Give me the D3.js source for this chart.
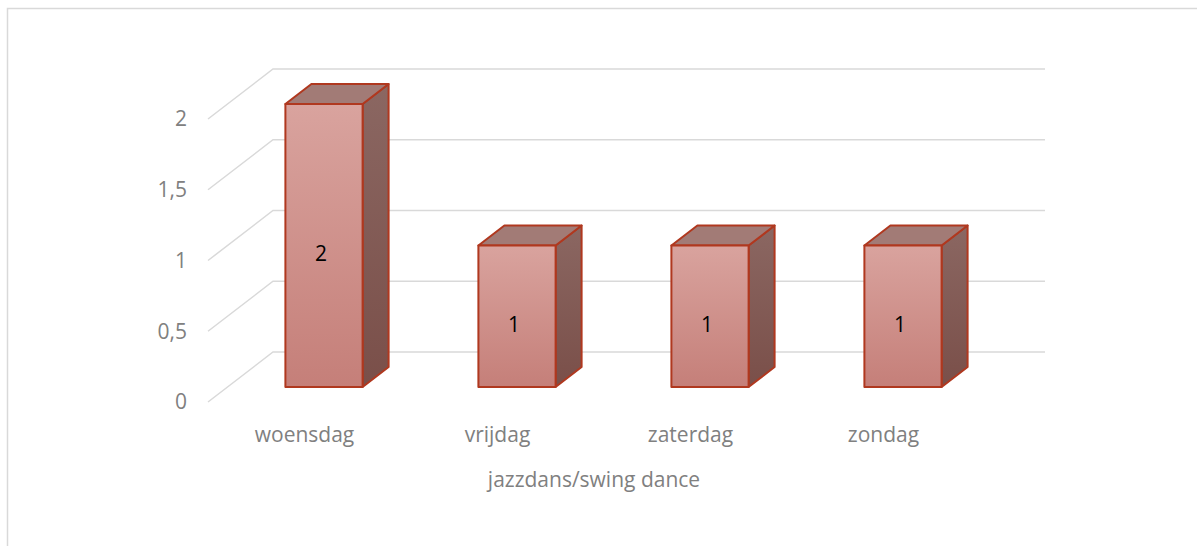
<!DOCTYPE html>
<html lang="nl">
<head>
<meta charset="utf-8">
<title>jazzdans/swing dance</title>
<style>
  body { margin: 0; background: #fff; }
  text { font-family: "Open Sans", "DejaVu Sans", sans-serif; }
</style>
</head>
<body>
<script src="https://cdn.jsdelivr.net/npm/d3@7"></script>
<script>
var categories = ["woensdag", "vrijdag", "zaterdag", "zondag"];
var values = [2, 1, 1, 1];
var yTicks = [0, 0.5, 1, 1.5, 2];
var axisTitle = "jazzdans/swing dance";

var width = 1197, height = 546;
var depthX = 65, depthY = -50;      // full depth of the 3D box
var barFront = 0.3, barBack = 0.7;  // bar position inside the depth

var svg = d3.select("body").append("svg")
    .attr("width", width)
    .attr("height", height);

// chart frame
svg.append("rect")
    .attr("x", 7.5).attr("y", 8.5)
    .attr("width", 1300).attr("height", 700)
    .attr("fill", "none")
    .attr("stroke", "#d9d9d9")
    .attr("stroke-width", 1.5);

var x = d3.scaleBand()
    .domain(categories)
    .range([208, 980])
    .paddingInner(0.6)
    .paddingOuter(0.3);

var y = d3.scaleLinear()
    .domain([0, 2])
    .range([402, 119]);

var fmt = d3.formatLocale({decimal: ",", thousands: ".", grouping: [3], currency: ["€", ""]}).format("~g");

function off(p, d) { return [p[0] + d * depthX, p[1] + d * depthY]; }

var defs = svg.append("defs");
var gFront = defs.append("linearGradient").attr("id", "front")
    .attr("x1", 0).attr("y1", 0).attr("x2", 0).attr("y2", 1);
gFront.append("stop").attr("offset", 0).attr("stop-color", "#d9a39e");
gFront.append("stop").attr("offset", 1).attr("stop-color", "#c57f79");
var gSide = defs.append("linearGradient").attr("id", "side")
    .attr("x1", 0).attr("y1", 0).attr("x2", 0).attr("y2", 1);
gSide.append("stop").attr("offset", 0).attr("stop-color", "#8b6762");
gSide.append("stop").attr("offset", 1).attr("stop-color", "#7a4f49");

// gridlines: diagonal on the side wall, then horizontal on the back wall
var xLeft = x.range()[0], xRight = x.range()[1];
svg.append("g")
    .selectAll("path")
    .data(yTicks)
    .enter()
    .append("path")
    .attr("fill", "none")
    .attr("stroke", "#d9d9d9")
    .attr("stroke-width", 1.5)
    .attr("d", function(d) {
        var a = [xLeft, y(d)];
        var b = off(a, 1);
        var c = off([xRight, y(d)], 1);
        return d3.line()([a, b, c]);
    });

// y tick labels
svg.append("g")
    .selectAll("text")
    .data(yTicks)
    .enter()
    .append("text")
    .attr("x", 187)
    .attr("y", function(d) { return y(d); })
    .attr("dy", "0.35em")
    .attr("text-anchor", "end")
    .attr("font-size", 21)
    .attr("fill", "#808080")
    .text(function(d) { return fmt(d); });

// bars
var bars = svg.append("g")
    .selectAll("g")
    .data(values)
    .enter()
    .append("g");

function corners(d, i) {
    var x0 = x(categories[i]), x1 = x0 + x.bandwidth();
    return {
        fbl: off([x0, y(0)], barFront), fbr: off([x1, y(0)], barFront),
        ftl: off([x0, y(d)], barFront), ftr: off([x1, y(d)], barFront),
        bbr: off([x1, y(0)], barBack),
        btl: off([x0, y(d)], barBack), btr: off([x1, y(d)], barBack)
    };
}

var stroke = "#b0381f";
bars.append("path")
    .attr("fill", "url(#side)")
    .attr("stroke", stroke).attr("stroke-width", 2).attr("stroke-linejoin", "round")
    .attr("d", function(d, i) {
        var c = corners(d, i);
        return d3.line()([c.ftr, c.btr, c.bbr, c.fbr]) + "Z";
    });
bars.append("path")
    .attr("fill", "#a27b76")
    .attr("stroke", stroke).attr("stroke-width", 2).attr("stroke-linejoin", "round")
    .attr("d", function(d, i) {
        var c = corners(d, i);
        return d3.line()([c.ftl, c.btl, c.btr, c.ftr]) + "Z";
    });
bars.append("path")
    .attr("fill", "url(#front)")
    .attr("stroke", stroke).attr("stroke-width", 2).attr("stroke-linejoin", "round")
    .attr("d", function(d, i) {
        var c = corners(d, i);
        return d3.line()([c.ftl, c.ftr, c.fbr, c.fbl]) + "Z";
    });

// data labels
bars.append("text")
    .attr("x", function(d, i) { var c = corners(d, i); return (c.ftl[0] + c.ftr[0]) / 2 - 3; })
    .attr("y", function(d, i) { var c = corners(d, i); return (c.ftl[1] + c.fbl[1]) / 2 + 8; })
    .attr("dy", "0.35em")
    .attr("text-anchor", "middle")
    .attr("font-size", 21)
    .attr("fill", "#000")
    .text(function(d) { return d; });

// category labels
svg.append("g")
    .selectAll("text")
    .data(categories)
    .enter()
    .append("text")
    .attr("x", function(d) { return x(d) + x.bandwidth() / 2; })
    .attr("y", 435)
    .attr("dy", "0.35em")
    .attr("text-anchor", "middle")
    .attr("font-size", 21)
    .attr("fill", "#808080")
    .text(function(d) { return d; });

// axis title
svg.append("text")
    .attr("x", (xLeft + xRight) / 2)
    .attr("y", 480)
    .attr("dy", "0.35em")
    .attr("text-anchor", "middle")
    .attr("font-size", 21)
    .attr("fill", "#808080")
    .text(axisTitle);
</script>
</body>
</html>
